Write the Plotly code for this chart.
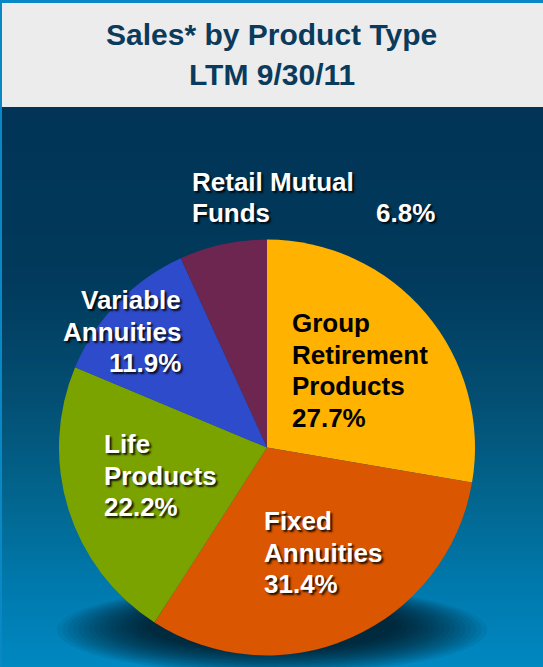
import plotly.graph_objects as go

W, H = 543, 667

title_lines = ["Sales* by Product Type", "LTM 9/30/11"]
products = ["Group<br>Retirement<br>Products", "Fixed<br>Annuities", "Life<br>Products",
            "Variable<br>Annuities", "Retail Mutual<br>Funds"]
sales_pct = [27.7, 31.4, 22.2, 11.9, 6.8]

slice_colors = ["#ffb200", "#da5600", "#7ba300", "#2e4bcb", "#6c2650"]
text_colors = ["black", "white", "white", "white", "white"]

# label block placement in pixels: (x, xanchor, first baseline)
label_pos = [(290, "left", 332), (262, "left", 530), (102, "left", 453),
             (183, "right", 309), (190, "left", 191)]
LINE = 31.5
FS = 26


def px(x):
    return x / W


def py(y):
    return 1 - y / H


def mix(c1, c2, t):
    a = [int(c1[i:i + 2], 16) for i in (1, 3, 5)]
    b = [int(c2[i:i + 2], 16) for i in (1, 3, 5)]
    return "#" + "".join(f"{round(a[i] + (b[i] - a[i]) * t):02x}" for i in range(3))


# background gradient stops (y px, colour)
bg_stops = [(107, "#013456"), (280, "#013a5c"), (400, "#034f73"),
            (500, "#02668f"), (580, "#0078ab"), (667, "#0088c2")]

shapes = []
step = 4
y = 107
while y < H:
    yc = y + step / 2
    for (y0, c0), (y1, c1) in zip(bg_stops, bg_stops[1:]):
        if y0 <= yc <= y1:
            col = mix(c0, c1, (yc - y0) / (y1 - y0))
            break
    shapes.append(dict(type="rect", xref="paper", yref="paper", x0=px(2), x1=1,
                       y0=py(min(y + step, H)), y1=py(y), fillcolor=col,
                       line=dict(width=0), layer="below"))
    y += step

# title band
shapes.append(dict(type="rect", xref="paper", yref="paper", x0=px(2), x1=1,
                   y0=py(107), y1=py(3), fillcolor="#ececec", line=dict(width=0),
                   layer="below"))

# soft shadow under the pie (many faint ellipses -> blurred look)
n = 18
for k in range(n):
    t = k / (n - 1)
    rx = 215 - 90 * t
    ry = 44 - 20 * t
    scx, scy = 272, 630 - 4 * t
    shapes.append(dict(type="circle", xref="paper", yref="paper",
                       x0=px(scx - rx), x1=px(scx + rx), y0=py(scy + ry), y1=py(scy - ry),
                       fillcolor="rgba(0,0,0,0.055)", line=dict(width=0), layer="below"))

cx, cy, r = 267, 447.5, 208
fig = go.Figure(go.Pie(
    labels=[p.replace("<br>", " ") for p in products],
    values=sales_pct,
    sort=False,
    direction="clockwise",
    rotation=0,
    marker=dict(colors=slice_colors, line=dict(width=0)),
    textinfo="none",
    hoverinfo="label+percent",
    showlegend=False,
    domain=dict(x=[px(cx - r), px(cx + r)], y=[py(cy + r), py(cy - r)]),
))

font_family = "Liberation Sans, Arial, sans-serif"
annotations = []

for tline, base in zip(title_lines, [46, 85]):
    annotations.append(dict(text=tline, x=0.5, y=py(base - 11), xref="paper", yref="paper",
                            xanchor="center", yanchor="middle", showarrow=False,
                            font=dict(family=font_family, size=30, color="#0b3b5c", weight="bold")))


def add_line(text, x, xanchor, base, color):
    shadow = "2px 2px 2px rgba(0,0,0,0.85)" if color == "white" else "none"
    annotations.append(dict(text=text, x=px(x), y=py(base - 9), xref="paper", yref="paper",
                            xanchor=xanchor, yanchor="middle", showarrow=False,
                            font=dict(family=font_family, size=FS, color=color,
                                      weight="bold", shadow=shadow)))


for name, val, (x, xa, base), tc in zip(products, sales_pct, label_pos, text_colors):
    lines = name.split("<br>")
    pct = f"{val:.1f}%"
    if name.startswith("Retail"):
        for k, ln in enumerate(lines):
            add_line(ln, x, xa, base + k * LINE, tc)
        add_line(pct, 437, "right", base + (len(lines) - 1) * LINE, tc)
    else:
        for k, ln in enumerate(lines + [pct]):
            add_line(ln, x, xa, base + k * LINE, tc)

fig.update_layout(
    width=W, height=H,
    margin=dict(l=0, r=0, t=0, b=0),
    paper_bgcolor="#0a88c5",
    plot_bgcolor="rgba(0,0,0,0)",
    shapes=shapes,
    annotations=annotations,
)

fig.write_html("out.html", config={"displayModeBar": False},
               post_script="document.body.style.margin='0';document.body.style.overflow='hidden';")
